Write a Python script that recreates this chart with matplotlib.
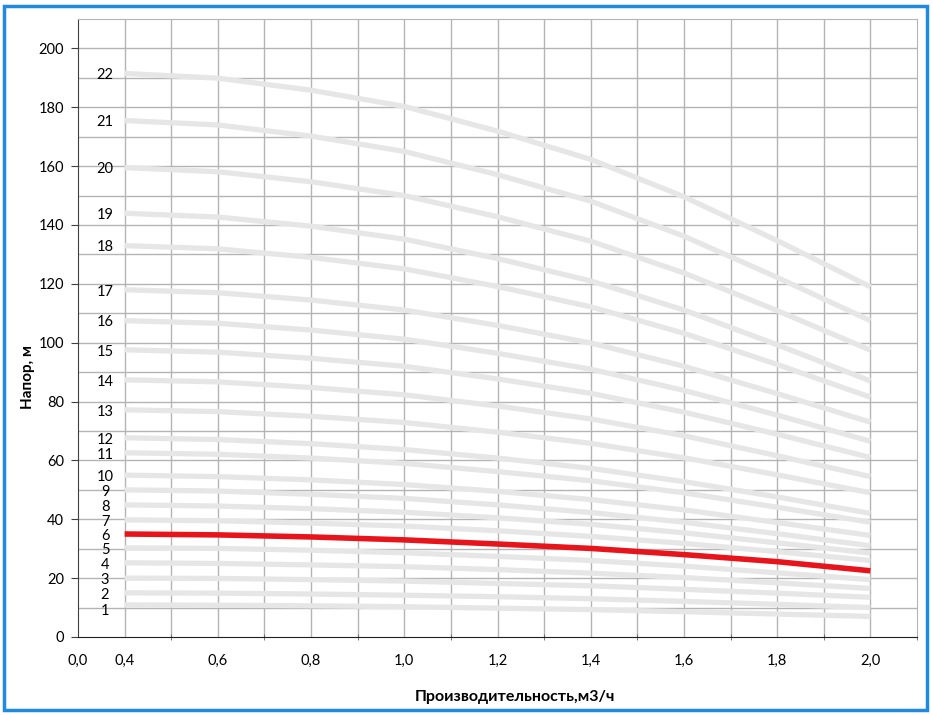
import matplotlib
matplotlib.use("Agg")
import matplotlib.pyplot as plt
from matplotlib.patches import Rectangle
from matplotlib.ticker import FixedLocator

plt.rcParams['font.family'] = ['Lato', 'DejaVu Sans']

# flow points, m3/h
flow = [0.4, 0.6, 0.8, 1.0, 1.2, 1.4, 1.6, 1.8, 2.0]

# head curves (m) for pumps with 1..22 stages
head = {
    1: [10.9, 10.8, 10.6, 10.3, 9.8, 9.3, 8.6, 7.8, 7.0],
    2: [15.0, 14.9, 14.6, 14.2, 13.7, 13.0, 12.1, 11.1, 10.0],
    3: [20.0, 19.9, 19.5, 19.0, 18.2, 17.4, 16.2, 14.9, 13.5],
    4: [25.2, 25.0, 24.5, 23.9, 22.9, 21.7, 20.2, 18.4, 16.5],
    5: [30.3, 30.1, 29.5, 28.6, 27.4, 26.0, 24.1, 21.8, 19.5],
    6: [35.0, 34.7, 34.0, 33.0, 31.6, 30.1, 28.0, 25.6, 22.5],
    7: [39.8, 39.5, 38.7, 37.7, 36.1, 34.2, 31.8, 29.0, 26.0],
    8: [44.9, 44.5, 43.6, 42.4, 40.5, 38.3, 35.4, 32.0, 28.5],
    9: [50.0, 49.6, 48.5, 47.1, 44.9, 42.3, 39.0, 35.1, 31.0],
    10: [55.0, 54.5, 53.4, 51.8, 49.5, 46.7, 43.2, 38.9, 34.5],
    11: [62.6, 62.1, 60.8, 59.0, 56.2, 53.1, 49.0, 44.1, 39.0],
    12: [67.7, 67.1, 65.7, 63.7, 60.8, 57.3, 52.8, 47.6, 42.0],
    13: [77.2, 76.6, 75.0, 72.9, 69.6, 65.8, 60.9, 55.1, 49.0],
    14: [87.4, 86.7, 84.8, 82.3, 78.5, 74.1, 68.4, 61.6, 54.5],
    15: [97.6, 96.8, 94.7, 92.0, 87.7, 82.8, 76.4, 68.9, 61.0],
    16: [107.5, 106.6, 104.3, 101.2, 96.4, 91.0, 83.8, 75.4, 66.5],
    17: [118.0, 117.0, 114.5, 111.1, 105.9, 99.9, 92.0, 82.7, 73.0],
    18: [133.0, 131.9, 129.0, 125.1, 119.1, 112.2, 103.2, 92.6, 81.5],
    19: [144.0, 142.7, 139.6, 135.2, 128.6, 121.0, 111.1, 99.3, 87.0],
    20: [159.5, 158.1, 154.7, 150.0, 142.8, 134.5, 123.7, 110.9, 97.5],
    21: [175.5, 174.0, 170.2, 165.0, 157.1, 148.1, 136.2, 122.2, 107.5],
    22: [191.5, 189.9, 185.8, 180.3, 171.9, 162.3, 149.6, 134.7, 119.0],
}
selected = 6

x_ticks = [0.3, 0.4, 0.6, 0.8, 1.0, 1.2, 1.4, 1.6, 1.8, 2.0]
x_ticklabels = ['0,0', '0,4', '0,6', '0,8', '1,0', '1,2', '1,4', '1,6', '1,8', '2,0']
y_ticks = list(range(0, 201, 20))

grid_c = '#b4b4b4'

fig = plt.figure(figsize=(9.33, 7.15), dpi=100)
ax = fig.add_axes([78 / 933, 1 - 637 / 715, (917 - 78) / 933, (637 - 19) / 715])

ax.set_xlim(0.3, 2.1)
ax.set_ylim(0, 210)

# grid every 0.1 and every 10 m (drawn by hand so the label ticks stay separate)
for gx in [0.4 + 0.1 * i for i in range(17)]:
    ax.axvline(gx, color=grid_c, lw=1, zorder=1)
for gy in range(10, 210, 10):
    ax.axhline(gy, color=grid_c, lw=1, zorder=1)

for n, h in head.items():
    if n == selected:
        continue
    ax.plot(flow, h, color='#e6e6e6', lw=3.8, solid_capstyle='butt', zorder=2)
ax.plot(flow, head[selected], color='#e8141b', lw=4, solid_capstyle='butt', zorder=3)

# stage numbers at the start of every curve
for n, h in head.items():
    dy = -2.2 if n == 1 else -0.6
    ax.text(0.358, h[0] + dy, str(n), ha='center', va='center', fontsize=10.5, zorder=4)

ax.set_xticks(x_ticks)
ax.set_xticklabels(x_ticklabels)
ax.xaxis.set_minor_locator(FixedLocator([0.4 + 0.1 * i for i in range(18)]))
ax.set_yticks(y_ticks)
ax.tick_params(axis='x', which='major', length=0, pad=12, labelsize=10.5)
ax.tick_params(axis='x', which='minor', length=4, direction='inout', color='#606060')
ax.tick_params(axis='y', which='major', length=5, color='#404040', pad=5, labelsize=10.5)

ax.spines['left'].set_color('#404040')
ax.spines['bottom'].set_color('#202020')
ax.spines['top'].set_color(grid_c)
ax.spines['right'].set_color(grid_c)

ax.set_xlabel('Производительность,м3/ч', fontweight='bold', fontsize=11.5)
ax.xaxis.set_label_coords(0.521, -0.085)
ax.set_ylabel('Напор, м', fontweight='bold', fontsize=11)
ax.yaxis.set_label_coords(-0.051, 0.42)

fig.patches.append(Rectangle((0.004, 0.007), 0.99, 0.985, transform=fig.transFigure,
                             fill=False, edgecolor='#1f8ae0', lw=2.5))

fig.savefig('out.png', dpi=100)
